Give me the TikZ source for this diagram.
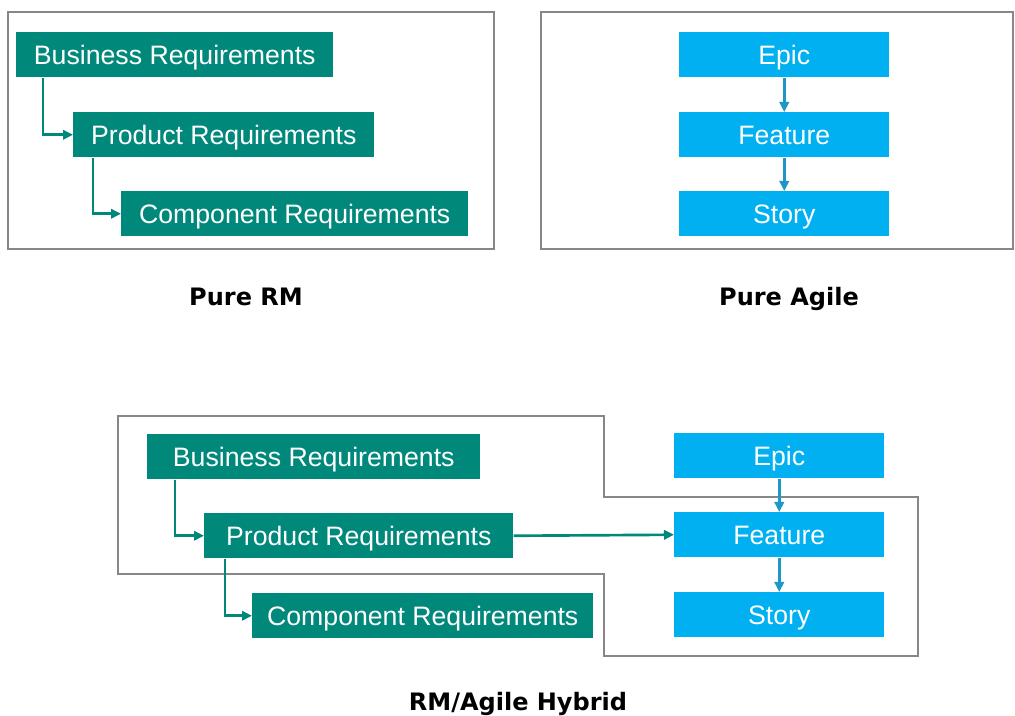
\documentclass[tikz,border=0pt]{standalone}
\usepackage{fontspec}
\setmainfont{Liberation Sans}
\newfontfamily\captionfont{DejaVu Sans}
\usetikzlibrary{
  arrows.meta,
  positioning
}
\definecolor{rmteal}{HTML}{00897B}
\definecolor{agileblue}{HTML}{00B0F0}
\definecolor{agileline}{HTML}{1E96C8}
\definecolor{framegray}{HTML}{878787}
\newlength\pxu
\setlength\pxu{0.75pt}

\begin{document}
\begin{tikzpicture}[x=0.75pt, y=-0.75pt,
      rmbox/.style={
        rectangle, fill=rmteal, anchor=north west,
        minimum height=45*\pxu, inner sep=0pt,
        font=\fontsize{20}{24}\selectfont, text=white,
        text height=14.4pt, text depth=0pt
      },
      agilebox/.style={rmbox, fill=agileblue, minimum width=210*\pxu},
      rmarrow/.style={-{Triangle[length=7.5pt, width=7pt]}, line width=2pt, rmteal},
      agilearrow/.style={-{Triangle[length=7.5pt, width=7pt]}, line width=2pt, agileline},
      frame/.style={draw=framegray, line width=2.2pt},
      caption/.style={font=\captionfont\bfseries\fontsize{18}{22}\selectfont,
        inner sep=0pt, text height=13pt, text depth=0pt}
    ]
      \useasboundingbox (0,0) rectangle (1015,716);

      % Pure RM
      \draw[frame] (8,12) rectangle (494,249);
      \node[rmbox, minimum width=317*\pxu] (br) at (16,32) {Business Requirements};
      \node[rmbox, minimum width=301*\pxu] (pr) at (73,112) {Product Requirements};
      \node[rmbox, minimum width=347*\pxu] (cr) at (121,191) {Component Requirements};
      \draw[rmarrow] ([xshift=27*\pxu]br.south west) |- (pr.west);
      \draw[rmarrow] ([xshift=20*\pxu]pr.south west) |- (cr.west);
      \node[caption] (purerm) at (246,297) {Pure RM};

      % Pure Agile
      \draw[frame] (541,12) rectangle (1013,249);
      \node[agilebox] (epic) at (679,32) {Epic};
      \node[agilebox] (feat) at (679,112) {Feature};
      \node[agilebox] (story) at (679,191) {Story};
      \draw[agilearrow] (epic) -- (feat);
      \draw[agilearrow] (feat) -- (story);
      \node[caption] (pureagile) at (789,297) {Pure Agile};

      % RM/Agile hybrid
      \draw[frame] (118,416) -- (604,416) -- (604,497) -- (918,497) -- (918,656)
        -- (604,656) -- (604,574) -- (118,574) -- cycle;
      \node[rmbox, minimum width=333*\pxu] (hbr) at (147,434) {Business Requirements};
      \node[rmbox, minimum width=309*\pxu] (hpr) at (204,513) {Product Requirements};
      \node[rmbox, minimum width=341*\pxu] (hcr) at (252,593) {Component Requirements};
      \node[agilebox] (hepic) at (674,433) {Epic};
      \node[agilebox] (hfeat) at (674,512) {Feature};
      \node[agilebox] (hstory) at (674,592) {Story};
      \draw[rmarrow] ([xshift=28*\pxu]hbr.south west) |- (hpr.west);
      \draw[rmarrow] ([xshift=21*\pxu]hpr.south west) |- (hcr.west);
      \draw[rmarrow] (hpr.east) -- (hfeat.west);
      \draw[agilearrow] (hepic) -- (hfeat);
      \draw[agilearrow] (hfeat) -- (hstory);
      \node[caption] (hybrid) at (518,702) {RM/Agile Hybrid};
    \end{tikzpicture}
\end{document}
